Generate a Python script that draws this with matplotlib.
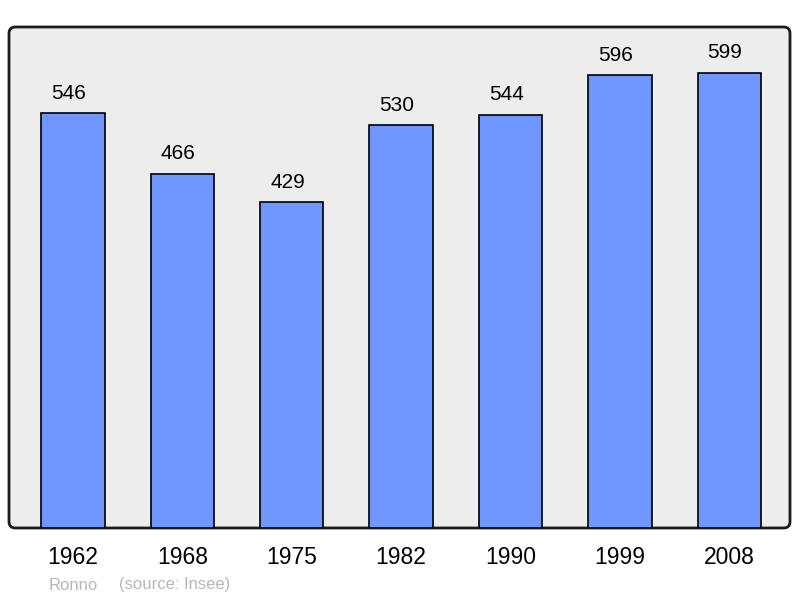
import matplotlib
matplotlib.use("Agg")
from matplotlib import pyplot as plt
from matplotlib.patches import FancyBboxPatch

years = ["1962", "1968", "1975", "1982", "1990", "1999", "2008"]
population = [546, 466, 429, 530, 544, 596, 599]

plt.rcParams["font.family"] = ["Liberation Sans", "DejaVu Sans"]

fig = plt.figure(figsize=(8, 5.98), dpi=100)
ax = fig.add_axes([9 / 800, 1 - 528 / 598, 781 / 800, 501 / 598])
ax.set_facecolor("none")

# rounded grey frame behind the bars
frame = FancyBboxPatch((9 / 800, 1 - 528 / 598), 781 / 800, 501 / 598,
                       boxstyle="round,pad=0,rounding_size=0.008",
                       mutation_aspect=800 / 598,
                       transform=fig.transFigure, facecolor="#ededed",
                       edgecolor="#1a1a1a", linewidth=2, zorder=-1)
fig.patches.append(frame)

x = list(range(len(years)))
ax.bar(x, population, width=0.58, color="#7096ff", edgecolor="black",
       linewidth=1.2, zorder=2)

for xi, val in zip(x, population):
    ax.text(xi - 0.04, val + 14, str(val), ha="center", va="bottom",
            fontsize=15, color="black")

ax.set_xlim(-0.585, 6.555)
ax.set_ylim(0, 659.6)
for s in ax.spines.values():
    s.set_visible(False)
ax.set_yticks([])
ax.set_xticks(x)
ax.set_xticklabels(years, fontsize=16.5)
ax.tick_params(axis="x", length=0, pad=13)

fig.text(49 / 800, 1 - 585 / 598, "Ronno", fontsize=12, color="#b8b8b8",
         va="center", ha="left")
fig.text(119 / 800, 1 - 585 / 598, "(source: Insee)", fontsize=12,
         color="#b8b8b8", va="center", ha="left")

fig.savefig("out.png", dpi=100)
